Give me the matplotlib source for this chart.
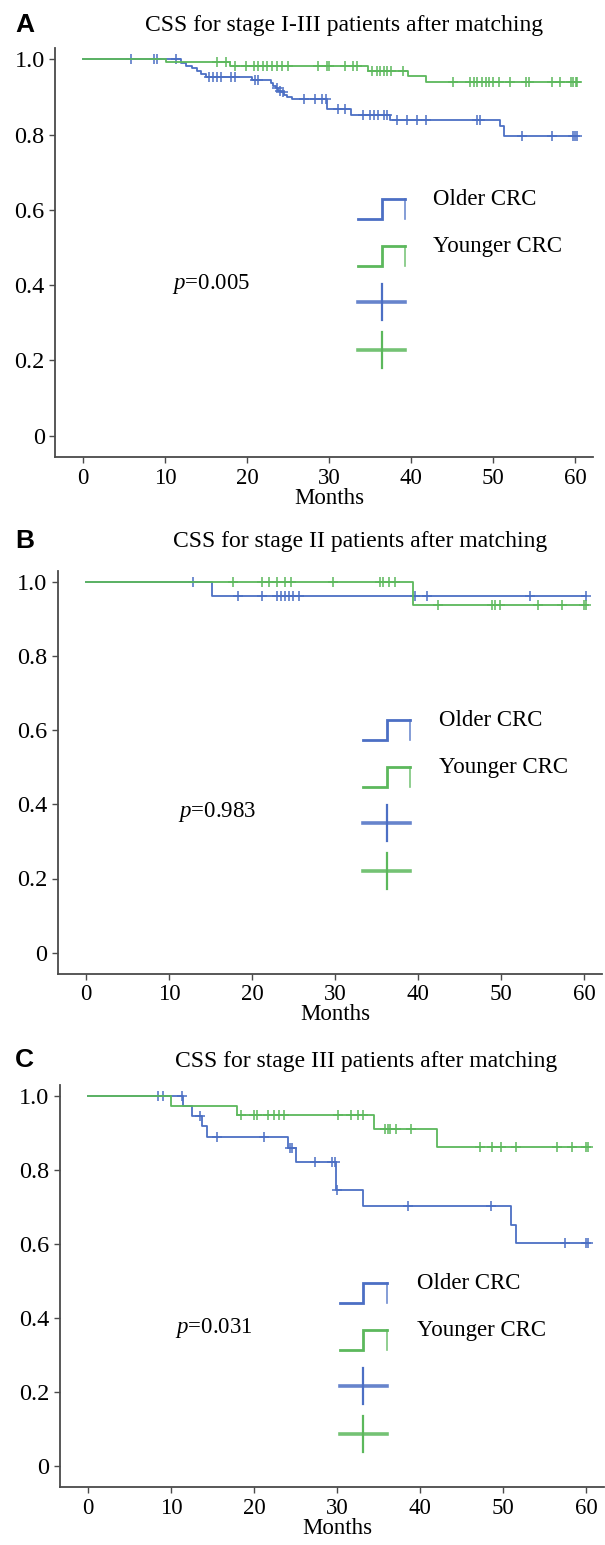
"""Kaplan-Meier CSS curves, older vs younger CRC, three stages after matching."""

import numpy as np
import matplotlib
matplotlib.use("Agg")
import matplotlib.pyplot as plt
from matplotlib.lines import Line2D

plt.rcParams["font.family"] = ["Liberation Serif", "DejaVu Serif"]
plt.rcParams["mathtext.fontset"] = "custom"
plt.rcParams["mathtext.rm"] = "Liberation Serif"
plt.rcParams["mathtext.it"] = "Liberation Serif:italic"

# -----------------------------------------------------------------------
# Data (months, survival)
# -----------------------------------------------------------------------
A_OLD_T = [0, 11.9, 12.6, 13.3, 13.9, 14.4, 15.0, 20.6, 22.9, 23.2, 23.5, 23.8, 24.2, 24.5, 24.9, 25.5,
           29.7, 32.7, 37.4, 50.9, 51.4]
A_OLD_S = [1.0, 0.991, 0.983, 0.976, 0.968, 0.960, 0.952, 0.945, 0.938, 0.930, 0.923, 0.917, 0.912,
           0.906, 0.901, 0.894, 0.868, 0.853, 0.838, 0.824, 0.797]
A_OLD_C = [5.8, 8.6, 9.0, 11.4, 15.4, 15.9, 16.4, 16.8, 18.0, 18.5, 21.0, 21.3, 23.6, 24.0, 24.4,
           26.9, 28.3, 29.2, 29.6, 31.1, 32.0, 34.1, 35.0, 35.5, 36.0, 36.7, 37.1, 38.3, 39.5, 40.7,
           41.8, 48.1, 48.4, 53.5, 57.2, 59.8, 60.0, 60.3]
A_YNG_T = [0, 10.1, 17.9, 34.7, 39.6, 41.8]
A_YNG_S = [1.0, 0.992, 0.981, 0.968, 0.955, 0.941]
A_YNG_C = [16.4, 17.5, 18.5, 19.9, 20.8, 21.4, 22.0, 22.5, 23.1, 23.6, 24.3, 25.0, 28.7, 29.7, 30.0,
           32.0, 32.9, 33.4, 35.3, 35.8, 36.2, 36.7, 37.1, 37.6, 39.0, 45.1, 47.2, 47.7, 48.1, 48.6,
           49.1, 49.5, 50.0, 50.7, 52.1, 54.0, 54.4, 57.2, 58.2, 59.5, 59.8, 60.1, 60.3]

B_OLD_T = [0, 15.2]
B_OLD_S = [1.0, 0.961]
B_OLD_C = [12.9, 18.3, 21.2, 23.0, 23.5, 24.0, 24.5, 24.9, 25.7, 39.6, 41.1, 53.5, 60.3]
B_YNG_T = [0, 39.4]
B_YNG_S = [1.0, 0.937]
B_YNG_C = [17.7, 21.2, 22.1, 23.0, 24.0, 24.7, 29.7, 35.4, 35.8, 36.5, 37.2, 42.4, 48.9, 49.3, 49.9,
           54.4, 57.3, 60.0, 60.3]

C_OLD_T = [0, 11.5, 12.5, 13.7, 14.3, 24.1, 25.0, 29.9, 33.1, 51.0, 51.6]
C_OLD_S = [1.0, 0.974, 0.946, 0.919, 0.890, 0.860, 0.822, 0.746, 0.703, 0.651, 0.602]
C_OLD_C = [8.4, 9.0, 11.3, 13.5, 15.6, 21.2, 24.3, 24.6, 27.3, 29.4, 29.8, 30.0, 38.6, 48.5, 57.5,
           60.0, 60.3]
C_YNG_T = [0, 10.0, 17.9, 34.5, 42.0]
C_YNG_S = [1.0, 0.974, 0.948, 0.910, 0.863]
C_YNG_C = [18.4, 20.0, 20.4, 21.7, 22.4, 23.0, 23.6, 30.1, 31.7, 32.5, 33.1, 35.8, 36.1, 36.4, 37.1,
           38.9, 47.2, 48.7, 49.7, 51.6, 56.5, 58.3, 60.0, 60.3]

PANELS = ["A", "B", "C"]
TITLES = ["CSS for stage I-III patients after matching",
          "CSS for stage II patients after matching",
          "CSS for stage III patients after matching"]
P_VALUES = ["0.005", "0.983", "0.031"]
GROUPS = ["Older CRC", "Younger CRC"]
X_TICKS = [0, 10, 20, 30, 40, 50, 60]
Y_TICKS = [0, 0.2, 0.4, 0.6, 0.8, 1.0]
Y_TICK_LABELS = ["0", "0.2", "0.4", "0.6", "0.8", "1.0"]

CURVES = {
    "A": ((A_OLD_T, A_OLD_S, A_OLD_C), (A_YNG_T, A_YNG_S, A_YNG_C)),
    "B": ((B_OLD_T, B_OLD_S, B_OLD_C), (B_YNG_T, B_YNG_S, B_YNG_C)),
    "C": ((C_OLD_T, C_OLD_S, C_OLD_C), (C_YNG_T, C_YNG_S, C_YNG_C)),
}

# -----------------------------------------------------------------------
# Layout (pixels on a 605x1545 canvas)
# -----------------------------------------------------------------------
W, H = 605, 1545
BLUE = "#4c6fc4"
GREEN = "#5cb85c"
SPINE = "#4a4a4a"
FS = 16.5
XLIM = (-3.4, 62.2)
YLIM = (-0.057, 1.03)

# x of month 0, px per month, y of S=1, y of S=0
GEOM = {"A": (83, 8.2, 59.3, 435.7),
        "B": (86, 8.3, 581.7, 952.7),
        "C": (88, 8.3, 1096, 1466)}
# title centre x, title baseline y, panel-letter baseline y
HEAD = {"A": (344, 31, 32), "B": (360, 547, 548), "C": (366, 1067, 1067)}
# p-text left x, centre y
PPOS = {"A": (172, 284), "B": (178, 812), "C": (175, 1328)}
# legend icon left x, text x, top y of first icon
LEG = {"A": (358, 433, 199), "B": (363, 439, 720), "C": (340, 417, 1283)}


def fx(x):
    return x / W


def fy(y):
    return 1 - y / H


def surv_at(t, s, c):
    idx = np.searchsorted(np.asarray(t), np.asarray(c), side="right") - 1
    return np.asarray(s)[idx]


def draw_legend(fig, key):
    x0, tx, y0 = LEG[key]
    w = 47
    for i, (col, name) in enumerate(zip([BLUE, GREEN], GROUPS)):
        top = y0 + 47 * i
        bot = top + 20
        xs = [x0, x0 + w / 2, x0 + w / 2, x0 + w]
        ys = [bot, bot, top, top]
        fig.add_artist(Line2D([fx(v) for v in xs], [fy(v) for v in ys], color=col, lw=2.0,
                              transform=fig.transFigure, solid_joinstyle="miter"))
        fig.add_artist(Line2D([fx(x0 + w)] * 2, [fy(top), fy(bot)], color=col, lw=1.2,
                              transform=fig.transFigure, alpha=0.8))
        fig.text(fx(tx), fy(top + 6), name, fontsize=FS, va="baseline", ha="left")
    for i, col in enumerate([BLUE, GREEN]):
        cy = y0 + 103 + 48 * i
        cx = x0 + w / 2
        fig.add_artist(Line2D([fx(x0), fx(x0 + w)], [fy(cy), fy(cy)], color=col, lw=2.6,
                              transform=fig.transFigure, alpha=0.85))
        fig.add_artist(Line2D([fx(cx), fx(cx)], [fy(cy - 18), fy(cy + 18)], color=col, lw=1.6,
                              transform=fig.transFigure))


fig = plt.figure(figsize=(W / 100, H / 100), dpi=100)

for key, title, pval in zip(PANELS, TITLES, P_VALUES):
    x0, pxm, y1, y0 = GEOM[key]
    span = y0 - y1
    left = x0 + XLIM[0] * pxm
    right = x0 + XLIM[1] * pxm
    top = y1 - (YLIM[1] - 1) * span
    bottom = y0 - YLIM[0] * span
    ax = fig.add_axes([fx(left), fy(bottom), (right - left) / W, (bottom - top) / H])

    for (t, s, c), col in zip(CURVES[key], [BLUE, GREEN]):
        end = max(c)
        ax.step(list(t) + [end], list(s) + [s[-1]], where="post", color=col, lw=1.3)
        ax.plot(c, surv_at(t, s, c), "+", color=col, ms=7, mew=1.1)

    ax.set_xlim(*XLIM)
    ax.set_ylim(*YLIM)
    ax.set_xticks(X_TICKS)
    ax.set_yticks(Y_TICKS)
    ax.set_yticklabels(Y_TICK_LABELS)
    for side in ("top", "right"):
        ax.spines[side].set_visible(False)
    for side in ("left", "bottom"):
        ax.spines[side].set_color(SPINE)
        ax.spines[side].set_linewidth(1.3)
    ax.tick_params(direction="out", length=4.5, width=1.0, color=SPINE, labelsize=FS, pad=3)
    ax.tick_params(axis="y", labelsize=17.5)

    # headings and labels
    tcx, tby, lby = HEAD[key]
    fig.text(fx(tcx), fy(tby), title, fontsize=FS + 0.5, ha="center", va="baseline")
    fig.text(fx(15), fy(lby), key, fontsize=19, fontweight="bold", ha="left", va="baseline",
             family=["Liberation Sans", "DejaVu Sans"])
    fig.text(fx(x0 + 30 * pxm), fy(bottom + 41), "Months", fontsize=FS, ha="center", va="center")
    px_, py_ = PPOS[key]
    fig.text(fx(px_), fy(py_), r"$p$=" + pval, fontsize=FS, ha="left", va="center")

    draw_legend(fig, key)

fig.savefig("out.png", dpi=100)
